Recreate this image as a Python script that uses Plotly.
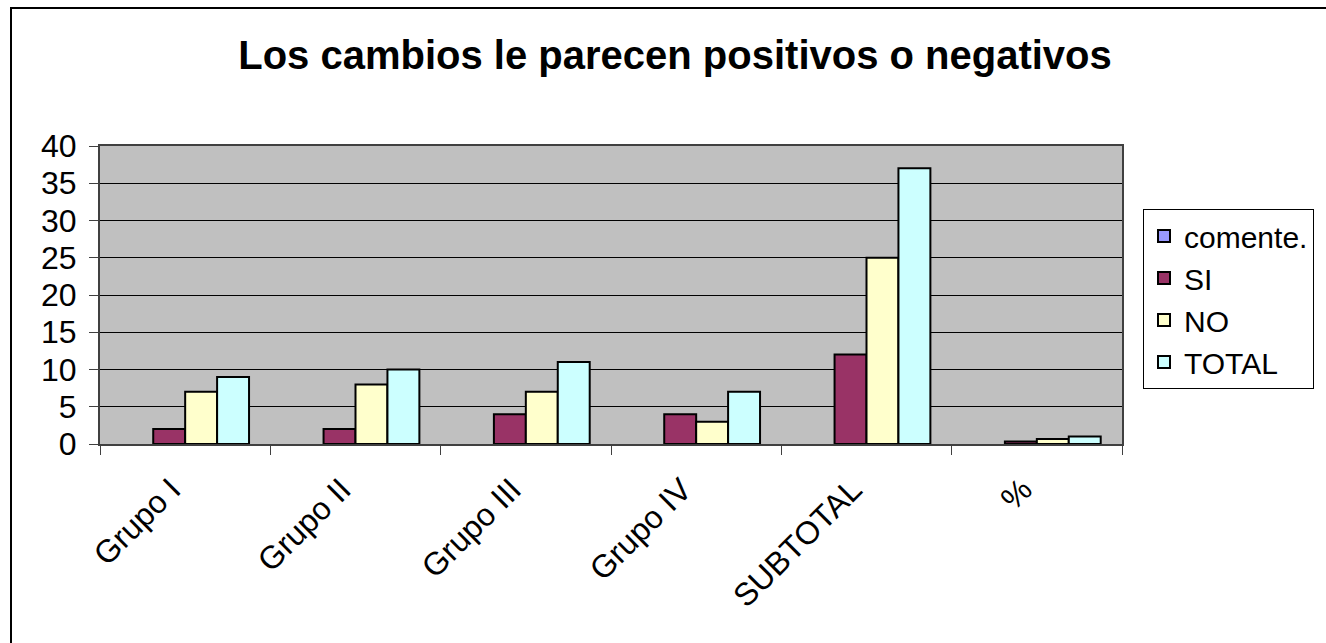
import plotly.graph_objects as go

categorias = ['Grupo I', 'Grupo II', 'Grupo III', 'Grupo IV', 'SUBTOTAL', '%']
comente = [None, None, None, None, None, None]
si = [2, 2, 4, 4, 12, 0.32]
no = [7, 8, 7, 3, 25, 0.68]
total = [9, 10, 11, 7, 37, 1]

series = [
    ('comente.', comente, '#9999FF'),
    ('SI', si, '#993366'),
    ('NO', no, '#FFFFCC'),
    ('TOTAL', total, '#CCFFFF'),
]

W, H = 1326, 643
L, R, T, B = 100, 1122, 146, 444

fig = go.Figure()
for nombre, vals, color in series:
    fig.add_trace(go.Bar(x=categorias, y=vals, name=nombre,
                         marker=dict(color=color, line=dict(color='black', width=2))))

# marco exterior del grafico (en coordenadas paper)
pw, ph = R - L, B - T
fig.add_shape(type='rect', xref='paper', yref='paper',
              x0=(11 - L) / pw, x1=(1360 - L) / pw,
              y0=(B - 680) / ph, y1=(B - 8) / ph,
              line=dict(color='black', width=2), layer='below')

fig.update_layout(
    width=W, height=H,
    margin=dict(l=L, r=W - R, t=T, b=H - B, autoexpand=False),
    paper_bgcolor='white', plot_bgcolor='#C0C0C0',
    barmode='group', bargap=0.25, bargroupgap=0,
    font=dict(family='Liberation Sans, Arial, sans-serif', size=32, color='black'),
    title=dict(text='<b>Los cambios le parecen positivos o negativos</b>',
               x=675 / W, xanchor='center', y=1 - 55 / H, yanchor='middle',
               font=dict(size=40)),
    legend=dict(x=(1143 - L) / pw, xanchor='left', y=(B - 209) / ph, yanchor='top',
                bordercolor='black', borderwidth=1, bgcolor='white',
                font=dict(size=30), tracegroupgap=0, itemwidth=30),
    showlegend=True,
)
fig.update_xaxes(showline=True, linecolor='#404040', linewidth=2, mirror=True,
                 ticks='outside', tickson='boundaries', ticklen=9, tickcolor='#404040',
                 tickangle=-45, ticklabelstandoff=12, ticklabelshift=-14,
                 showgrid=False)
fig.update_yaxes(range=[0, 40], dtick=5, showline=True, linecolor='#404040', linewidth=2,
                 mirror=True, ticks='outside', ticklen=9, tickcolor='#404040',
                 ticklabelstandoff=6, gridcolor='black', gridwidth=1, zeroline=False)

# quitar el margen por defecto de la pagina
fig.write_html('out.html', config={'displayModeBar': False},
               post_script="document.body.style.margin='0px';")
